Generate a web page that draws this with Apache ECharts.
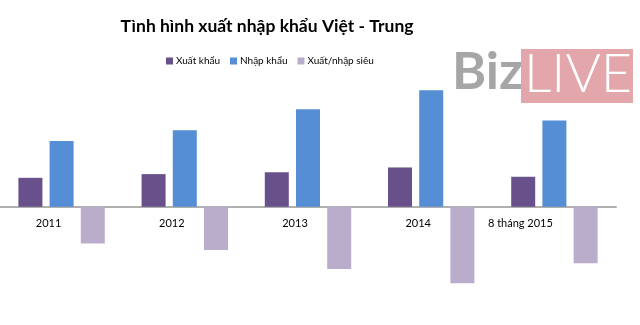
<!DOCTYPE html>
<html>
<head>
<meta charset="utf-8">
<script src="https://cdn.jsdelivr.net/npm/echarts@6/dist/echarts.min.js"></script>
<style>
  body{margin:0;background:#fff;}
</style>
</head>
<body>
<div id="chart" style="width:640px;height:325px;"></div>
<script>
// số liệu (tỷ USD)
var categories = ['2011', '2012', '2013', '2014', '8 tháng 2015']
var labelShift = [26, 26, 26, 26, 68] // lệch nhãn sang trái như bản gốc
var xuatKhau = [10.9, 12.3, 13.0, 14.8, 11.3]
var nhapKhau = [24.8, 28.8, 36.7, 43.9, 32.5]
var xuatNhapSieu = [-13.8, -16.3, -23.4, -28.8, -21.3]

var myChart = echarts.init(document.getElementById('chart'))
var font = 'Lato, "Open Sans", sans-serif'

var option = {
  animation: false,
  title: {
    text: 'Tình hình xuất nhập khẩu Việt - Trung',
    left: 262,
    top: 12,
    textAlign: 'center',
    textStyle: { fontFamily: font, fontSize: 17.5, fontWeight: 'bold', color: '#000' }
  },
  legend: {
    left: 161,
    top: 51,
    itemWidth: 7,
    itemHeight: 7,
    itemGap: 10,
    icon: 'rect',
    textStyle: { fontFamily: font, fontSize: 10, color: '#000', padding: [0, 0, 0, -2] },
    data: ['Xuất khẩu', 'Nhập khẩu', 'Xuất/nhập siêu']
  },
  grid: { left: 0, right: 24, top: 74, bottom: 12, outerBoundsMode: 'none', containLabel: false },
  xAxis: {
    type: 'category',
    offset: -106,
    data: categories.map(function (c, i) {
      return { value: c, textStyle: { padding: [0, labelShift[i], 0, 0] } }
    }),
    axisLine: { onZero: false, lineStyle: { color: '#b0b0b0', width: 2 } },
    axisTick: { show: false },
    axisLabel: { margin: 11, fontFamily: font, fontSize: 11, color: '#000', interval: 0 }
  },
  yAxis: {
    type: 'value',
    min: -40,
    max: 50,
    show: false,
    splitLine: { show: false }
  },
  series: [{
    name: 'Xuất khẩu',
    type: 'bar',
    barWidth: 24,
    barGap: '30%',
    itemStyle: { color: '#68508a' },
    data: xuatKhau
  }, {
    name: 'Nhập khẩu',
    type: 'bar',
    barWidth: 24,
    barGap: '30%',
    itemStyle: { color: '#558ed5' },
    data: nhapKhau
  }, {
    name: 'Xuất/nhập siêu',
    type: 'bar',
    barWidth: 24,
    barGap: '30%',
    itemStyle: { color: '#b9adcb' },
    data: xuatNhapSieu
  }],
  // logo BizLIVE
  graphic: [{
    type: 'text',
    left: 452,
    top: 46,
    style: { text: 'Biz', fill: '#a6a6a6', font: 'bold 52px ' + font }
  }, {
    type: 'rect',
    shape: { x: 521, y: 49, width: 112, height: 54 },
    style: { fill: '#e2a6ab' }
  }, {
    type: 'text',
    left: 524,
    top: 48,
    style: { text: 'LIVE', fill: '#fff', font: '300 54px ' + font }
  }]
}
myChart.setOption(option)
</script>
</body>
</html>
